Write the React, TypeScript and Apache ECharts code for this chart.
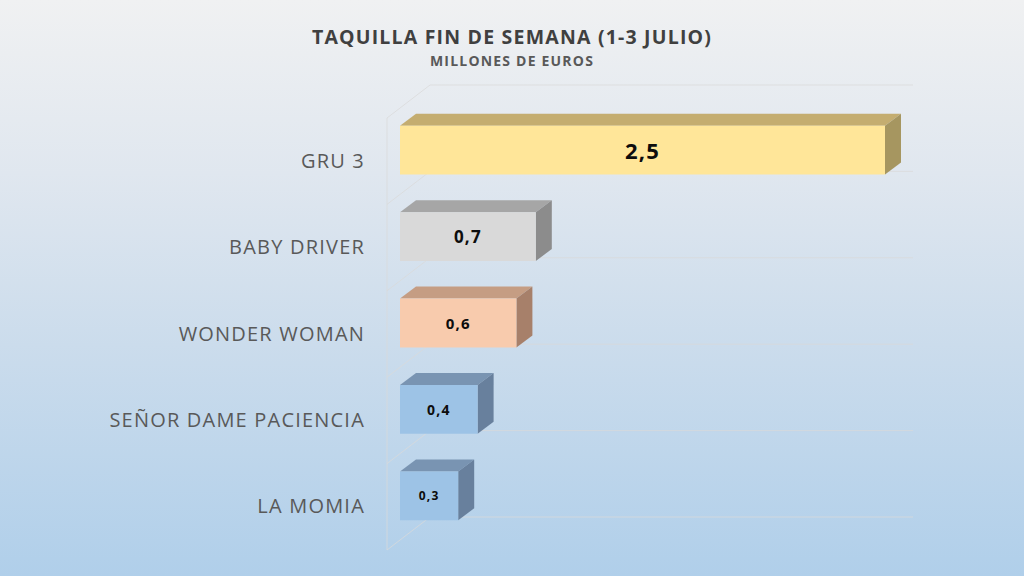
import React, { useEffect, useRef } from 'react'
import * as echarts from 'echarts'

const categories = ['GRU 3', 'BABY DRIVER', 'WONDER WOMAN', 'SEÑOR DAME PACIENCIA', 'LA MOMIA']
const values = [2.5, 0.7, 0.6, 0.4, 0.3]

const titleText = 'TAQUILLA FIN DE SEMANA (1-3 JULIO)'
const subtitleText = 'MILLONES DE EUROS'

// front, top, side colours of each box
const faceColors = [
  ['#ffe699', '#c4ad70', '#a69660'],
  ['#d9d9d9', '#a6a6a6', '#8c8c8c'],
  ['#f8cbad', '#c59d83', '#a7806a'],
  ['#9dc3e6', '#7994b2', '#68809d'],
  ['#9dc3e6', '#7994b2', '#68809d'],
]
const labelSizes = [22, 17, 15, 14, 12]

const FONT = '"Open Sans", "Noto Sans", sans-serif'
const DX = 16
const DY = 12

export default function App() {
  const chartRef = useRef<HTMLDivElement>(null)

  useEffect(() => {
    if (!chartRef.current) return
    const chart = echarts.init(chartRef.current, undefined, { renderer: 'svg' })

    const fmt = (v: number) => v.toFixed(1).replace('.', ',')

    const option: any = {
      animation: false,
      backgroundColor: new echarts.graphic.LinearGradient(0, 0, 0, 1, [
        { offset: 0, color: '#f0f1f2' },
        { offset: 0.3, color: '#e0e7ef' },
        { offset: 0.6, color: '#cbdcec' },
        { offset: 1, color: '#b0cfea' },
      ]),
      title: {
        text: titleText,
        subtext: subtitleText,
        left: 'center',
        top: 21,
        itemGap: 7,
        textStyle: { fontFamily: FONT, fontSize: 19.5, fontWeight: 'bold', color: '#404040' },
        subtextStyle: { fontFamily: FONT, fontSize: 14, fontWeight: 'bold', color: '#595959' },
      },
      grid: { left: 400, right: 139, top: 107, bottom: 37 },
      xAxis: {
        type: 'value',
        min: 0,
        max: 2.5,
        show: false,
      },
      yAxis: {
        type: 'category',
        data: categories,
        inverse: true,
        axisLine: { show: false },
        axisTick: { show: false },
        axisLabel: {
          fontFamily: FONT,
          fontSize: 20,
          color: '#595959',
          margin: 35,
          verticalAlign: 'top',
        },
      },
      series: [
        {
          // walls / gridlines of the 3D frame
          type: 'custom',
          silent: true,
          data: [[0, 0]],
          encode: { x: 0, y: 1 },
          renderItem: (params: any, api: any) => {
            const cs = params.coordSys
            const band = api.size([0, 1])[1]
            const frontX = cs.x - 13
            const backX = frontX + 43
            const rightX = cs.x + cs.width + 28
            const children: any[] = []
            const line = { stroke: '#d9d9d9', lineWidth: 1, opacity: 0.75 }
            for (let k = 0; k <= categories.length; k++) {
              const yb = cs.y + k * band
              children.push({
                type: 'line',
                shape: { x1: frontX, y1: yb + 11, x2: backX, y2: yb - 22 },
                style: line,
              })
              children.push({
                type: 'line',
                shape: { x1: backX, y1: yb - 22, x2: rightX, y2: yb - 22 },
                style: line,
              })
            }
            children.push({
              type: 'line',
              shape: { x1: frontX, y1: cs.y + 11, x2: frontX, y2: cs.y + cs.height + 11 },
              style: line,
            })
            return { type: 'group', children }
          },
          z: 1,
        },
        {
          type: 'custom',
          data: values.map((v, i) => [v, i]),
          encode: { x: 0, y: 1 },
          renderItem: (params: any, api: any) => {
            const i = params.dataIndex
            const v = api.value(0)
            const p0 = api.coord([0, api.value(1)])
            const p1 = api.coord([v, api.value(1)])
            const band = api.size([0, 1])[1]
            const h = band * 0.565
            const x0 = p0[0]
            const x1 = p1[0]
            const yt = p0[1] - h / 2
            const yb = p0[1] + h / 2
            const [front, top, side] = faceColors[i]
            return {
              type: 'group',
              children: [
                {
                  type: 'polygon',
                  shape: { points: [[x0, yt], [x0 + DX, yt - DY], [x1 + DX, yt - DY], [x1, yt]] },
                  style: { fill: top },
                },
                {
                  type: 'polygon',
                  shape: { points: [[x1, yt], [x1 + DX, yt - DY], [x1 + DX, yb - DY], [x1, yb]] },
                  style: { fill: side },
                },
                {
                  type: 'rect',
                  shape: { x: x0, y: yt, width: x1 - x0, height: h },
                  style: { fill: front },
                },
                {
                  type: 'text',
                  style: {
                    text: fmt(v),
                    x: (x0 + x1) / 2,
                    y: p0[1],
                    align: 'center',
                    verticalAlign: 'middle',
                    fill: '#0d0d0d',
                    font: `bold ${labelSizes[i]}px ${FONT}`,
                  },
                },
              ],
            }
          },
          z: 2,
        },
      ],
    }

    chart.setOption(option)
    return () => {
      chart.dispose()
    }
  }, [])

  return (
    <div
      ref={chartRef}
      style={{ position: 'fixed', left: 0, top: 0, width: 1024, height: 576, letterSpacing: '1.2px' }}
    />
  )
}
